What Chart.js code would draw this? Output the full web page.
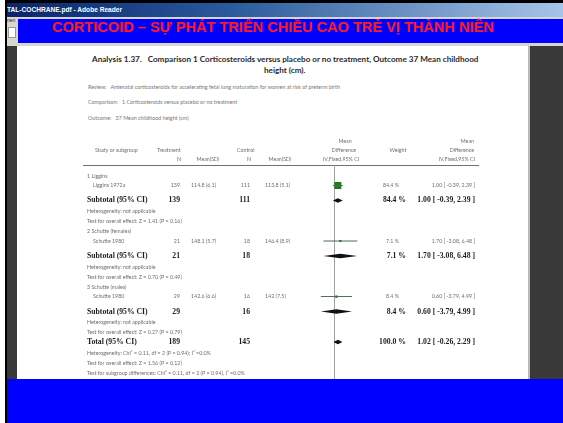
<!DOCTYPE html>
<html>
<head>
<meta charset="utf-8">
<script src="https://cdn.jsdelivr.net/npm/chart.js@4.4.0/dist/chart.umd.min.js"></script>
<style>
  html, body { margin:0; padding:0; width:563px; height:423px; overflow:hidden; background:#fff; }
  .abs { position:absolute; }
  #frame { left:5px; top:0; width:558px; height:423px; background:#000; }
  #titlebar { left:7px; top:3px; width:556px; height:14px;
    background:linear-gradient(90deg,#0a246a 0%,#2a5a9a 40%,#a6c4e8 100%);
    color:#fff; font:bold 6.6px "Liberation Sans", Arial, sans-serif; line-height:14px; white-space:nowrap; overflow:hidden; }
  #toolbar { left:7px; top:17px; width:556px; height:29px; background:#d8d6cf; }
  #menutext { left:7px; top:17px; font:5px "Liberation Sans", Arial, sans-serif; color:#222; line-height:6px; }
  #icon { left:8px; top:27px; width:6px; height:9px; background:#fff; border:1px solid #999; }
  #viewer { left:7px; top:46px; width:556px; height:333px; background:#393939; }
  #page { left:17px; top:46px; width:511px; height:333px; background:#fff; border-right:2px solid #b9b9b9; }
  #banner { left:18px; top:19px; width:545px; height:24px; background:#0000ff; }
  #bannerText { left:52px; top:19px; height:24px; line-height:24px; color:#ff1a1a;
    font:bold 15.5px "Liberation Sans", Arial, sans-serif; white-space:nowrap; }
  #bottom { left:7px; top:379px; width:556px; height:44px; background:#0000ff; }
  .head { position:absolute; white-space:nowrap; font-family:Lato, "Open Sans", sans-serif; }
  #h1 { left:92px; top:55px; font-weight:bold; font-size:7.4px; line-height:8px; color:#2a2a2a; }
  #h2 { left:264px; top:66px; font-weight:bold; font-size:7.4px; line-height:8px; color:#2a2a2a; }
  .meta { font-size:5.4px; line-height:6px; color:#777; }
  #chartBox { left:17px; top:46px; width:511px; height:333px; }
  #forest { display:block; }
</style>
</head>
<body>
<div id="frame" class="abs"></div>
<div id="titlebar" class="abs">TAL-COCHRANE.pdf - Adobe Reader</div>
<div id="toolbar" class="abs"></div>
<div id="menutext" class="abs">nen</div>
<div id="icon" class="abs"></div>
<div id="viewer" class="abs"></div>
<div id="page" class="abs"></div>
<div id="banner" class="abs"></div>
<div id="bannerText" class="abs">CORTICOID – SỰ PHÁT TRIỂN CHIỀU CAO TRẺ VỊ THÀNH NIÊN</div>

<div id="h1" class="head">Analysis 1.37.&nbsp;&nbsp;&nbsp;Comparison 1 Corticosteroids versus placebo or no treatment, Outcome 37 Mean childhood</div>
<div id="h2" class="head">height (cm).</div>
<div class="head meta" style="left:88px;top:84px;">Review:&nbsp;&nbsp;&nbsp;Antenatal corticosteroids for accelerating fetal lung maturation for women at risk of preterm birth</div>
<div class="head meta" style="left:88px;top:99px;">Comparison:&nbsp;&nbsp;&nbsp;1 Corticosteroids versus placebo or no treatment</div>
<div class="head meta" style="left:88px;top:115px;">Outcome:&nbsp;&nbsp;&nbsp;37 Mean childhood height (cm)</div>

<div id="chartBox" class="abs"><canvas id="forest" width="511" height="333"></canvas></div>
<div id="bottom" class="abs"></div>

<script>
// Studies, one per subgroup
const subgroups = ['1 Liggins', '2 Schutte (females)', '3 Schutte (males)'];
const studies = ['Liggins 1972a', 'Schutte 1980', 'Schutte 1980'];
const treatN = [139, 21, 29];
const treatMeanSD = ['114.8 (6.1)', '148.1 (5.7)', '142.6 (6.6)'];
const ctrlN = [111, 18, 16];
const ctrlMeanSD = ['113.8 (5.1)', '146.4 (8.9)', '142 (7.5)'];
const weights = [84.4, 7.1, 8.4];
const meanDiff = [1.00, 1.70, 0.60];
const ciLow = [-0.39, -3.08, -3.79];
const ciHigh = [2.39, 6.48, 4.99];
const heterogeneity = ['Heterogeneity: not applicable', 'Heterogeneity: not applicable', 'Heterogeneity: not applicable'];
const overallEffect = ['Test for overall effect: Z = 1.41 (P = 0.16)', 'Test for overall effect: Z = 0.70 (P = 0.49)', 'Test for overall effect: Z = 0.27 (P = 0.79)'];

// Pooled result
const totalN = [189, 145];
const totalWeight = 100.0;
const totalEffect = [1.02, -0.26, 2.29];
const totalNotes = [
  'Heterogeneity: Chi² = 0.11, df = 2 (P = 0.94); I² =0.0%',
  'Test for overall effect: Z = 1.56 (P = 0.12)',
  'Test for subgroup differences: Chi² = 0.11, df = 2 (P = 0.94), I² =0.0%'
];

// x axis range of the plot column
const axisMin = -10, axisMax = 10;

// Row positions (in row units of the y scale, top = 0)
const rows = { label: [], study: [], sub: [], het: [], test: [] };
let r = 1.1;
for (let i = 0; i < studies.length; i++) {
  rows.label.push(r);
  rows.study.push(r + 0.95);
  rows.sub.push(r + 2.45);
  rows.het.push(r + 3.55);
  rows.test.push(r + 4.55);
  r += 5.55;
}
const totalRow = rows.test[rows.test.length - 1] + 0.95;
const totalNoteRows = [totalRow + 1.15, totalRow + 2.15, totalRow + 3.15];

const fmtCI = (m, lo, hi) => `${m.toFixed(2)} [ ${lo.toFixed(2)}, ${hi.toFixed(2)} ]`;
const fmtW = w => `${w.toFixed(1)} %`;

const SMALL = '5.3px Lato, "Open Sans", sans-serif';
const BOLD = 'bold 7.7px "Liberation Serif", "DejaVu Serif", serif';
const GREY = '#6e6e6e';
const DARK = '#1c1c1c';

const tablePlugin = {
  id: 'forestTable',
  beforeDatasetsDraw(chart) {
    const { ctx, scales: { x }, chartArea } = chart;
    ctx.save();
    // column header rule
    ctx.strokeStyle = '#707070';
    ctx.lineWidth = 1;
    ctx.beginPath();
    ctx.moveTo(66, Math.round(chartArea.top) + 0.5);
    ctx.lineTo(462, Math.round(chartArea.top) + 0.5);
    ctx.stroke();
    // line of no effect
    const x0 = Math.round(x.getPixelForValue(0)) + 0.5;
    ctx.strokeStyle = '#a0a0a0';
    ctx.beginPath();
    ctx.moveTo(x0, chartArea.top);
    ctx.lineTo(x0, chart.height);
    ctx.stroke();
    ctx.restore();
  },
  afterDatasetsDraw(chart) {
    const { ctx, scales: { x, y } } = chart;
    const text = (s, px, py, font, color, align) => {
      ctx.font = font; ctx.fillStyle = color; ctx.textAlign = align || 'left';
      ctx.fillText(s, px, py);
    };
    const diamond = (m, lo, hi, row) => {
      const py = y.getPixelForValue(row);
      const h = 2.2;
      ctx.fillStyle = '#111';
      ctx.beginPath();
      ctx.moveTo(x.getPixelForValue(lo), py);
      ctx.lineTo(x.getPixelForValue(m), py - h);
      ctx.lineTo(x.getPixelForValue(hi), py);
      ctx.lineTo(x.getPixelForValue(m), py + h);
      ctx.closePath();
      ctx.fill();
    };
    ctx.save();
    ctx.textBaseline = 'middle';

    // column headings
    text('Study or subgroup', 78, 104, SMALL, GREY);
    text('Treatment', 140, 104, SMALL, GREY);
    text('N', 162, 113, SMALL, GREY, 'center');
    text('Mean(SD)', 191, 113, SMALL, GREY, 'center');
    text('Control', 220, 104, SMALL, GREY);
    text('N', 232, 113, SMALL, GREY, 'center');
    text('Mean(SD)', 263, 113, SMALL, GREY, 'center');
    text('Mean', 328, 95, SMALL, GREY, 'center');
    text('Difference', 327, 104, SMALL, GREY, 'center');
    text('IV,Fixed,95% CI', 324, 113, SMALL, GREY, 'center');
    text('Weight', 381, 104, SMALL, GREY, 'center');
    text('Mean', 457, 95, SMALL, GREY, 'right');
    text('Difference', 457, 104, SMALL, GREY, 'right');
    text('IV,Fixed,95% CI', 458, 113, SMALL, GREY, 'right');

    // subgroups
    for (let i = 0; i < studies.length; i++) {
      const ys = y.getPixelForValue(rows.study[i]);
      const yb = y.getPixelForValue(rows.sub[i]);
      text(subgroups[i], 70, y.getPixelForValue(rows.label[i]), SMALL, GREY);
      text(studies[i], 76, ys, SMALL, GREY);
      text(String(treatN[i]), 163, ys, SMALL, GREY, 'right');
      text(treatMeanSD[i], 174, ys, SMALL, GREY);
      text(String(ctrlN[i]), 233, ys, SMALL, GREY, 'right');
      text(ctrlMeanSD[i], 248, ys, SMALL, GREY);
      text(fmtW(weights[i]), 382, ys, SMALL, GREY, 'right');
      text(fmtCI(meanDiff[i], ciLow[i], ciHigh[i]), 458, ys, SMALL, GREY, 'right');

      text('Subtotal (95% CI)', 70, yb, BOLD, DARK);
      text(String(treatN[i]), 163, yb, BOLD, DARK, 'right');
      text(String(ctrlN[i]), 233, yb, BOLD, DARK, 'right');
      text(fmtW(weights[i]), 389, yb, BOLD, DARK, 'right');
      text(fmtCI(meanDiff[i], ciLow[i], ciHigh[i]), 458, yb, BOLD, DARK, 'right');
      diamond(meanDiff[i], ciLow[i], ciHigh[i], rows.sub[i]);

      text(heterogeneity[i], 70, y.getPixelForValue(rows.het[i]), SMALL, GREY);
      text(overallEffect[i], 70, y.getPixelForValue(rows.test[i]), SMALL, GREY);
    }

    // overall
    const yt = y.getPixelForValue(totalRow);
    text('Total (95% CI)', 70, yt, BOLD, DARK);
    text(String(totalN[0]), 163, yt, BOLD, DARK, 'right');
    text(String(totalN[1]), 233, yt, BOLD, DARK, 'right');
    text(fmtW(totalWeight), 389, yt, BOLD, DARK, 'right');
    text(fmtCI(totalEffect[0], totalEffect[1], totalEffect[2]), 458, yt, BOLD, DARK, 'right');
    diamond(totalEffect[0], totalEffect[1], totalEffect[2], totalRow);
    totalNotes.forEach((s, k) => text(s, 70, y.getPixelForValue(totalNoteRows[k]), SMALL, GREY));

    ctx.restore();
  }
};

// confidence interval whiskers, one line per study
const ciDatasets = studies.map((s, i) => ({
  type: 'line',
  data: [{ x: ciLow[i], y: rows.study[i] }, { x: ciHigh[i], y: rows.study[i] }],
  borderColor: '#4f6f4f',
  borderWidth: 1,
  pointRadius: 0,
  fill: false
}));

// study estimates, square area following the weight
const pointDataset = {
  type: 'scatter',
  data: meanDiff.map((m, i) => ({ x: m, y: rows.study[i] })),
  pointStyle: 'rect',
  pointRadius: ctx => 0.54 * Math.sqrt(weights[ctx.dataIndex]),
  backgroundColor: ctx => weights[ctx.dataIndex] > 50 ? '#1e7a1e' : '#24482a',
  borderWidth: 0
};

new Chart(document.getElementById('forest'), {
  type: 'scatter',
  data: { datasets: [...ciDatasets, pointDataset] },
  options: {
    responsive: false,
    animation: false,
    devicePixelRatio: 1,
    layout: { padding: { left: 281.8, right: 158.2, top: 119, bottom: 0 } },
    plugins: { legend: { display: false }, tooltip: { enabled: false }, title: { display: false } },
    scales: {
      x: { type: 'linear', min: axisMin, max: axisMax, display: false },
      // plot area is 209 px tall: ten pixels per row unit
      y: { type: 'linear', min: 0, max: 20.9, reverse: true, display: false }
    }
  },
  plugins: [tablePlugin]
});

// fit the slide heading to its band
(function fit() {
  const el = document.getElementById('bannerText');
  const target = 442;
  const w = el.getBoundingClientRect().width;
  const size = parseFloat(getComputedStyle(el).fontSize);
  el.style.fontSize = (size * target / w) + 'px';
  const h = document.getElementById('h1');
  const hw = h.getBoundingClientRect().width;
  const hs = parseFloat(getComputedStyle(h).fontSize);
  const ns = hs * 387 / hw;
  h.style.fontSize = ns + 'px';
  document.getElementById('h2').style.fontSize = ns + 'px';
})();
</script>
</body>
</html>
